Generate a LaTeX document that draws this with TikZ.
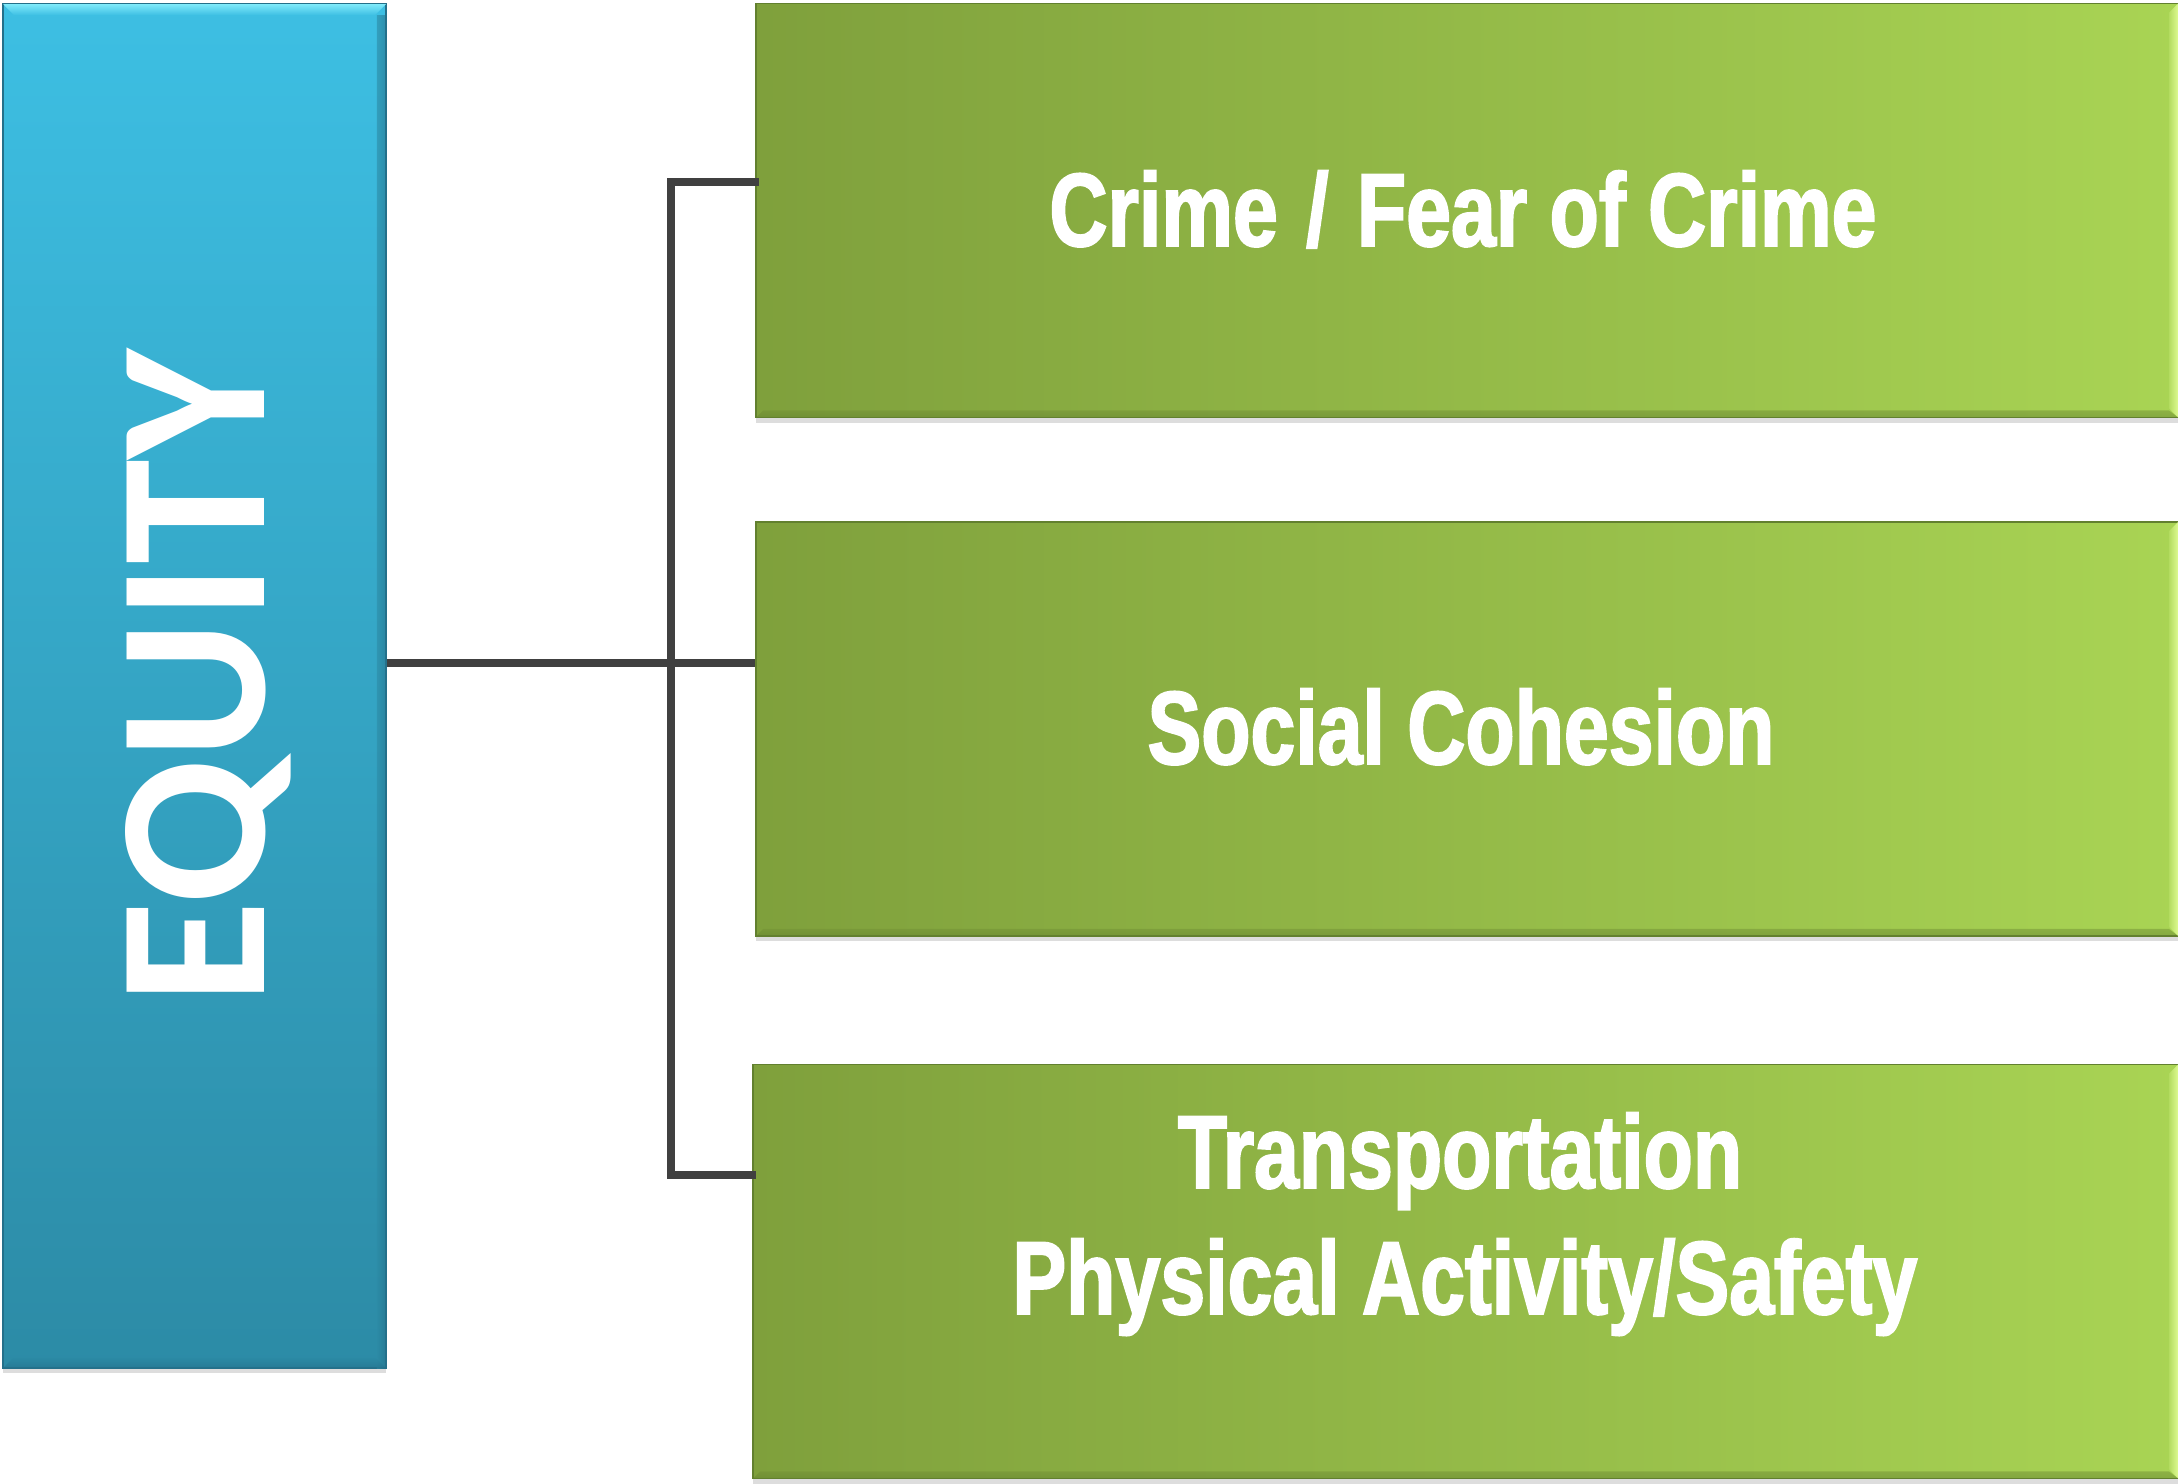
\documentclass[tikz,border=0pt]{standalone}
\usepackage{fontspec}
\usetikzlibrary{shadows,calc}
\newfontfamily\gfont[FakeStretch=0.775,FakeBold=1.8]{Liberation Sans}
\newfontfamily\efont{Carlito}
\definecolor{eqtop}{HTML}{3DBFE3}
\definecolor{eqbot}{HTML}{2C8BA6}
\definecolor{eqhl}{HTML}{7FEAFA}
\definecolor{eqdark}{HTML}{24708A}
\definecolor{gl}{HTML}{7FA03C}
\definecolor{gr}{HTML}{A9D454}
\definecolor{gborder}{HTML}{62802F}
\definecolor{ghl}{HTML}{DDFA90}
\definecolor{conn}{HTML}{404040}
\tikzset{
  bluebox/.style={rectangle, draw=eqdark, line width=0.8pt, top color=eqtop, bottom color=eqbot,
    minimum width=191.5pt, minimum height=682pt, inner sep=0pt,
    drop shadow={shadow xshift=0pt, shadow yshift=-2.5pt, opacity=0.22, fill=black!60}},
  greenbox/.style={rectangle, draw=gborder, line width=0.8pt, left color=gl, right color=gr,
    minimum height=207pt, inner sep=0pt,
    drop shadow={shadow xshift=0pt, shadow yshift=-2.5pt, opacity=0.22, fill=black!60}},
  gtext/.style={text=white, font=\gfont\bfseries\fontsize{52}{62}\selectfont, inner sep=0pt, anchor=base},
  etext/.style={text=white, font=\efont\bfseries\fontsize{106}{110}\selectfont, inner sep=0pt, anchor=base, rotate=90},
  connector/.style={draw=conn, line width=3.6pt},
}
\begin{document}
\begin{tikzpicture}[x=0.5pt,y=-0.5pt]
\useasboundingbox (0,0) rectangle (2178,1483);
% boxes
\node[bluebox] (eq) at (194.5,686) {};
\node[greenbox, minimum width=711pt] (b1) at (1467,210.5) {};
\node[greenbox, minimum width=711pt] (b2) at (1467,729) {};
\node[greenbox, minimum width=712.5pt] (b3) at (1465.5,1271.5) {};
% bevels
\shade[top color=eqhl, bottom color=eqtop] ([xshift=0.4pt,yshift=-0.4pt]eq.north west) -- ([xshift=-0.4pt,yshift=-0.4pt]eq.north east) -- ([xshift=-6pt,yshift=-6pt]eq.north east) -- ([xshift=6pt,yshift=-6pt]eq.north west) -- cycle;
\shade[left color=eqbot, right color=eqdark, opacity=0.6] ([xshift=-5pt,yshift=-6pt]eq.north east) rectangle ([xshift=-0.4pt,yshift=0.4pt]eq.south east);
\shade[top color=eqbot, bottom color=eqdark, opacity=0.6] ([xshift=6pt,yshift=6pt]eq.south west) -- ([xshift=-6pt,yshift=6pt]eq.south east) -- ([xshift=-0.4pt,yshift=0.4pt]eq.south east) -- ([xshift=0.4pt,yshift=0.4pt]eq.south west) -- cycle;
\foreach \b in {b1,b2,b3}{
  \shade[left color=gr!80!ghl, right color=ghl] ([xshift=-5pt,yshift=-5pt]\b.north east) -- ([xshift=-0.4pt,yshift=-0.4pt]\b.north east) -- ([xshift=-0.4pt,yshift=0.4pt]\b.south east) -- ([xshift=-5pt,yshift=5pt]\b.south east) -- cycle;
  \shade[top color=gl!90!black, bottom color=gborder, opacity=0.5] ([xshift=4pt,yshift=4pt]\b.south west) -- ([xshift=-5pt,yshift=4pt]\b.south east) -- ([xshift=-0.4pt,yshift=0.4pt]\b.south east) -- ([xshift=0.4pt,yshift=0.4pt]\b.south west) -- cycle;
}
% texts
\node[etext] (eqt) at (264,677) {EQUITY};
\node[gtext] (t1) at (1463,246) {Crime \hspace{3pt}/\hspace{3pt} Fear of Crime};
\node[gtext] (t2) at (1461,764) {Social Cohesion};
\node[gtext] (t3a) at (1460,1188) {Transportation};
\node[gtext] (t3b) at (1465,1314) {Physical Activity/Safety};
% connectors
\coordinate (j) at (671,663);
\coordinate (jt) at (671,182);
\coordinate (jb) at (671,1175);
\draw[connector] (eq.east |- j) -- (b2.west |- j);
\draw[connector, line cap=rect] (b1.west |- jt) -- (jt) -- (jb) -- (b3.west |- jb);
\end{tikzpicture}
\end{document}
